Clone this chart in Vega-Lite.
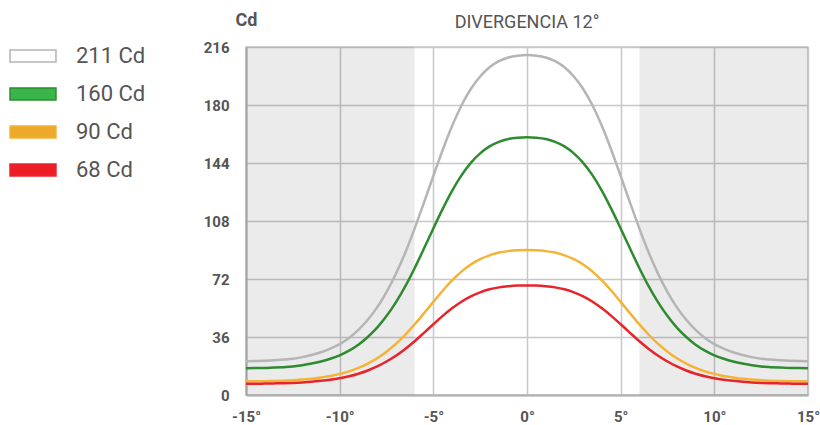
{
  "$schema": "https://vega.github.io/schema/vega-lite/v6.json",
  "width": 562,
  "height": 348,
  "autosize": {"type": "none"},
  "padding": {"left": 246, "top": 47, "right": 12, "bottom": 30},
  "background": "white",
  "config": {"view": {"stroke": "#c8c8c8", "strokeWidth": 1.5}, "font": "Roboto"},
  "title": {"text": "DIVERGENCIA 12°", "fontSize": 18, "fontWeight": "normal", "color": "#555555", "font": "Roboto", "offset": -35, "baseline": "alphabetic", "anchor": "middle"},
  "layer": [
    {
      "data": {"values": [{"a": -15, "b": -6}, {"a": 6, "b": 15}]},
      "mark": {"type": "rect", "fill": "#000000", "opacity": 0.08},
      "encoding": {
        "x": {"field": "a", "type": "quantitative", "scale": {"domain": [-15, 15], "nice": false}},
        "x2": {"field": "b"},
        "y": {"datum": 0, "type": "quantitative", "scale": {"domain": [0, 216], "nice": false}},
        "y2": {"datum": 216}
      }
    },
    {
      "data": {"values": [
        {"x": -15, "211 Cd": 21, "160 Cd": 16.6, "90 Cd": 8.5, "68 Cd": 7},
        {"x": -14.5, "211 Cd": 21.1, "160 Cd": 16.7, "90 Cd": 8.5, "68 Cd": 7},
        {"x": -14, "211 Cd": 21.3, "160 Cd": 16.8, "90 Cd": 8.6, "68 Cd": 7.1},
        {"x": -13.5, "211 Cd": 21.6, "160 Cd": 17, "90 Cd": 8.7, "68 Cd": 7.2},
        {"x": -13, "211 Cd": 22, "160 Cd": 17.3, "90 Cd": 8.9, "68 Cd": 7.3},
        {"x": -12.5, "211 Cd": 22.5, "160 Cd": 17.7, "90 Cd": 9.2, "68 Cd": 7.5},
        {"x": -12, "211 Cd": 23.5, "160 Cd": 18.5, "90 Cd": 9.6, "68 Cd": 7.8},
        {"x": -11.5, "211 Cd": 24.8, "160 Cd": 19.5, "90 Cd": 10.1, "68 Cd": 8.2},
        {"x": -11, "211 Cd": 26.5, "160 Cd": 20.8, "90 Cd": 10.9, "68 Cd": 8.8},
        {"x": -10.5, "211 Cd": 28.8, "160 Cd": 22.5, "90 Cd": 11.8, "68 Cd": 9.5},
        {"x": -10, "211 Cd": 31.6, "160 Cd": 24.6, "90 Cd": 13.1, "68 Cd": 10.4},
        {"x": -9.5, "211 Cd": 35.4, "160 Cd": 27.5, "90 Cd": 14.7, "68 Cd": 11.6},
        {"x": -9, "211 Cd": 40.4, "160 Cd": 31.2, "90 Cd": 16.8, "68 Cd": 13.2},
        {"x": -8.5, "211 Cd": 46.7, "160 Cd": 36, "90 Cd": 19.5, "68 Cd": 15.2},
        {"x": -8, "211 Cd": 54.4, "160 Cd": 41.8, "90 Cd": 22.8, "68 Cd": 17.7},
        {"x": -7.5, "211 Cd": 63.9, "160 Cd": 49, "90 Cd": 26.9, "68 Cd": 20.8},
        {"x": -7, "211 Cd": 75.2, "160 Cd": 57.5, "90 Cd": 31.7, "68 Cd": 24.4},
        {"x": -6.5, "211 Cd": 88.3, "160 Cd": 67.4, "90 Cd": 37.4, "68 Cd": 28.6},
        {"x": -6, "211 Cd": 103.3, "160 Cd": 78.7, "90 Cd": 43.8, "68 Cd": 33.4},
        {"x": -5.5, "211 Cd": 119.4, "160 Cd": 90.9, "90 Cd": 50.7, "68 Cd": 38.6},
        {"x": -5, "211 Cd": 136, "160 Cd": 103.4, "90 Cd": 57.8, "68 Cd": 43.9},
        {"x": -4.5, "211 Cd": 152.1, "160 Cd": 115.5, "90 Cd": 64.7, "68 Cd": 49.1},
        {"x": -4, "211 Cd": 166.9, "160 Cd": 126.7, "90 Cd": 71.1, "68 Cd": 53.8},
        {"x": -3.5, "211 Cd": 179.7, "160 Cd": 136.3, "90 Cd": 76.6, "68 Cd": 57.9},
        {"x": -3, "211 Cd": 189.9, "160 Cd": 144.1, "90 Cd": 81, "68 Cd": 61.2},
        {"x": -2.5, "211 Cd": 197.7, "160 Cd": 150, "90 Cd": 84.3, "68 Cd": 63.7},
        {"x": -2, "211 Cd": 203.4, "160 Cd": 154.3, "90 Cd": 86.7, "68 Cd": 65.6},
        {"x": -1.5, "211 Cd": 207.2, "160 Cd": 157.1, "90 Cd": 88.4, "68 Cd": 66.8},
        {"x": -1, "211 Cd": 209.5, "160 Cd": 158.9, "90 Cd": 89.3, "68 Cd": 67.5},
        {"x": -0.5, "211 Cd": 210.6, "160 Cd": 159.7, "90 Cd": 89.8, "68 Cd": 67.9},
        {"x": 0, "211 Cd": 211, "160 Cd": 160, "90 Cd": 90, "68 Cd": 68},
        {"x": 0.5, "211 Cd": 210.6, "160 Cd": 159.7, "90 Cd": 89.8, "68 Cd": 67.9},
        {"x": 1, "211 Cd": 209.5, "160 Cd": 158.9, "90 Cd": 89.3, "68 Cd": 67.5},
        {"x": 1.5, "211 Cd": 207.2, "160 Cd": 157.1, "90 Cd": 88.4, "68 Cd": 66.8},
        {"x": 2, "211 Cd": 203.4, "160 Cd": 154.3, "90 Cd": 86.7, "68 Cd": 65.6},
        {"x": 2.5, "211 Cd": 197.7, "160 Cd": 150, "90 Cd": 84.3, "68 Cd": 63.7},
        {"x": 3, "211 Cd": 189.9, "160 Cd": 144.1, "90 Cd": 81, "68 Cd": 61.2},
        {"x": 3.5, "211 Cd": 179.7, "160 Cd": 136.3, "90 Cd": 76.6, "68 Cd": 57.9},
        {"x": 4, "211 Cd": 166.9, "160 Cd": 126.7, "90 Cd": 71.1, "68 Cd": 53.8},
        {"x": 4.5, "211 Cd": 152.1, "160 Cd": 115.5, "90 Cd": 64.7, "68 Cd": 49.1},
        {"x": 5, "211 Cd": 136, "160 Cd": 103.4, "90 Cd": 57.8, "68 Cd": 43.9},
        {"x": 5.5, "211 Cd": 119.4, "160 Cd": 90.9, "90 Cd": 50.7, "68 Cd": 38.6},
        {"x": 6, "211 Cd": 103.3, "160 Cd": 78.7, "90 Cd": 43.8, "68 Cd": 33.4},
        {"x": 6.5, "211 Cd": 88.3, "160 Cd": 67.4, "90 Cd": 37.4, "68 Cd": 28.6},
        {"x": 7, "211 Cd": 75.2, "160 Cd": 57.5, "90 Cd": 31.7, "68 Cd": 24.4},
        {"x": 7.5, "211 Cd": 63.9, "160 Cd": 49, "90 Cd": 26.9, "68 Cd": 20.8},
        {"x": 8, "211 Cd": 54.4, "160 Cd": 41.8, "90 Cd": 22.8, "68 Cd": 17.7},
        {"x": 8.5, "211 Cd": 46.7, "160 Cd": 36, "90 Cd": 19.5, "68 Cd": 15.2},
        {"x": 9, "211 Cd": 40.4, "160 Cd": 31.2, "90 Cd": 16.8, "68 Cd": 13.2},
        {"x": 9.5, "211 Cd": 35.4, "160 Cd": 27.5, "90 Cd": 14.7, "68 Cd": 11.6},
        {"x": 10, "211 Cd": 31.6, "160 Cd": 24.6, "90 Cd": 13.1, "68 Cd": 10.4},
        {"x": 10.5, "211 Cd": 28.8, "160 Cd": 22.5, "90 Cd": 11.8, "68 Cd": 9.5},
        {"x": 11, "211 Cd": 26.5, "160 Cd": 20.8, "90 Cd": 10.9, "68 Cd": 8.8},
        {"x": 11.5, "211 Cd": 24.8, "160 Cd": 19.5, "90 Cd": 10.1, "68 Cd": 8.2},
        {"x": 12, "211 Cd": 23.5, "160 Cd": 18.5, "90 Cd": 9.6, "68 Cd": 7.8},
        {"x": 12.5, "211 Cd": 22.5, "160 Cd": 17.7, "90 Cd": 9.2, "68 Cd": 7.5},
        {"x": 13, "211 Cd": 22, "160 Cd": 17.3, "90 Cd": 8.9, "68 Cd": 7.3},
        {"x": 13.5, "211 Cd": 21.6, "160 Cd": 17, "90 Cd": 8.7, "68 Cd": 7.2},
        {"x": 14, "211 Cd": 21.3, "160 Cd": 16.8, "90 Cd": 8.6, "68 Cd": 7.1},
        {"x": 14.5, "211 Cd": 21.1, "160 Cd": 16.7, "90 Cd": 8.5, "68 Cd": 7},
        {"x": 15, "211 Cd": 21, "160 Cd": 16.6, "90 Cd": 8.5, "68 Cd": 7}
      ]},
      "transform": [{"fold": ["211 Cd", "160 Cd", "90 Cd", "68 Cd"], "as": ["s", "v"]}],
      "mark": {"type": "line", "interpolate": "monotone", "strokeWidth": 2.5},
      "encoding": {
        "x": {
          "field": "x", "type": "quantitative",
          "scale": {"domain": [-15, 15], "nice": false},
          "axis": {
            "values": [-15, -10, -5, 0, 5, 10, 15],
            "labelExpr": "datum.value + '°'",
            "labelFlush": false,
            "labelOverlap": false,
            "labelFont": "Roboto",
            "labelFontSize": 15,
            "labelFontWeight": "bold",
            "labelColor": "#555555",
            "labelPadding": 14,
            "ticks": false,
            "grid": true,
            "gridColor": "#c8c8c8",
            "gridWidth": 1.5,
            "domainColor": "#b0b0b0",
            "domainWidth": 2,
            "title": null
          }
        },
        "y": {
          "field": "v", "type": "quantitative",
          "scale": {"domain": [0, 216], "nice": false},
          "axis": {
            "values": [0, 36, 72, 108, 144, 180, 216],
            "labelFont": "Roboto",
            "labelFontSize": 15,
            "labelFontWeight": "bold",
            "labelColor": "#555555",
            "labelPadding": 17,
            "labelOverlap": false,
            "ticks": false,
            "grid": true,
            "gridColor": "#c8c8c8",
            "gridWidth": 1.5,
            "domainColor": "#b0b0b0",
            "domainWidth": 2,
            "title": "Cd",
            "titleAngle": 0,
            "titleX": 0,
            "titleY": -27,
            "titleAlign": "center",
            "titleBaseline": "middle",
            "titleFont": "Roboto",
            "titleFontSize": 18,
            "titleFontWeight": "bold",
            "titleColor": "#555555"
          }
        },
        "color": {
          "field": "s", "type": "nominal",
          "scale": {"domain": ["211 Cd", "160 Cd", "90 Cd", "68 Cd"], "range": ["#b5b5b5", "#2e8b30", "#f5b335", "#e8242b"]},
          "legend": {
            "orient": "none",
            "legendX": -224,
            "legendY": -2,
            "title": null,
            "padding": 0,
            "symbolType": "M-3.83,-1H3.83V1H-3.83Z",
            "symbolSize": 144,
            "labelFont": "Roboto",
            "labelFontSize": 22,
            "labelFontWeight": "normal",
            "labelColor": "#555555",
            "labelOffset": 32,
            "rowPadding": 16,
            "encode": {
              "symbols": {
                "update": {
                  "fill": {"signal": "datum.value === '211 Cd' ? '#ffffff' : datum.value === '160 Cd' ? '#3ab54a' : datum.value === '90 Cd' ? '#eda92a' : '#ee1c25'"},
                  "stroke": {"signal": "datum.value === '211 Cd' ? '#a0a0a0' : 'transparent'"},
                  "strokeWidth": {"value": 1.5},
                  "opacity": {"value": 1}
                }
              }
            }
          }
        }
      }
    }
  ]
}
